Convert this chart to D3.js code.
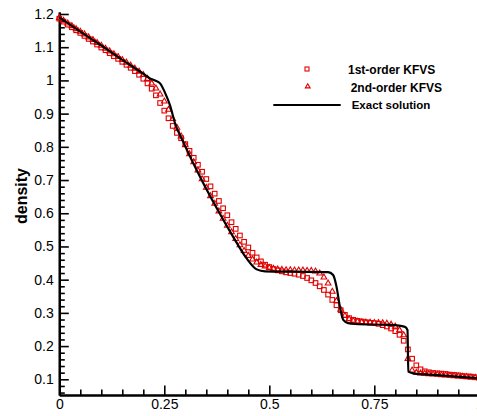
<!DOCTYPE html>
<html>
<head>
<meta charset="utf-8">
<script src="https://cdn.jsdelivr.net/npm/d3@7"></script>
<style>
  body { margin: 0; background: #fff; }
  svg { display: block; font-family: Arial, "Liberation Sans", sans-serif; }
</style>
</head>
<body>
<div id="chart"></div>
<script>
// exact solution
const exactX = [0, 0.05, 0.1, 0.15, 0.2, 0.216, 0.228, 0.24, 0.2557, 0.2636, 0.2755, 0.295, 0.335, 0.375, 0.414, 0.446, 0.47, 0.49, 0.56, 0.64, 0.652, 0.66, 0.668, 0.676, 0.688, 0.704, 0.79, 0.823, 0.829, 0.831, 0.843, 0.9, 1.0];
const exactY = [1.19, 1.147, 1.105, 1.062, 1.02, 1.006, 1.0, 0.991, 0.951, 0.925, 0.871, 0.815, 0.71, 0.615, 0.529, 0.464, 0.431, 0.425, 0.424, 0.423, 0.414, 0.379, 0.319, 0.279, 0.269, 0.2665, 0.2636, 0.258, 0.2485, 0.123, 0.118, 0.1126, 0.103];

// cell positions of the numerical results
const gridX = d3.range(101).map(i => i / 100);

// 1st-order KFVS (squares)
const firstOrder = [1.186, 1.177, 1.168, 1.160, 1.151, 1.143, 1.134, 1.125, 1.117, 1.108,
  1.099, 1.091, 1.082, 1.073, 1.065, 1.056, 1.047, 1.038, 1.028, 1.017,
  1.005, 0.991, 0.975, 0.955, 0.932, 0.909, 0.886, 0.863, 0.842, 0.826,
  0.808, 0.788, 0.767, 0.746, 0.725, 0.703, 0.681, 0.659, 0.637, 0.615,
  0.594, 0.573, 0.553, 0.533, 0.514, 0.497, 0.481, 0.467, 0.455, 0.445,
  0.438, 0.432, 0.428, 0.425, 0.422, 0.420, 0.418, 0.415, 0.411, 0.405,
  0.398, 0.390, 0.380, 0.369, 0.355, 0.339, 0.323, 0.308, 0.294, 0.284,
  0.279, 0.276, 0.274, 0.272, 0.270, 0.269, 0.267, 0.263, 0.259, 0.253,
  0.245, 0.234, 0.216, 0.190, 0.162, 0.142, 0.130, 0.124, 0.121, 0.119,
  0.118, 0.117, 0.116, 0.114, 0.113, 0.112, 0.110, 0.109, 0.108, 0.106, 0.105];

// 2nd-order KFVS (triangles)
const secondOrder = [1.188, 1.180, 1.172, 1.164, 1.155, 1.147, 1.139, 1.130, 1.122, 1.113,
  1.105, 1.096, 1.088, 1.079, 1.071, 1.062, 1.054, 1.045, 1.036, 1.027,
  1.017, 1.005, 0.991, 0.976, 0.958, 0.937, 0.912, 0.884, 0.858, 0.832,
  0.805, 0.778, 0.754, 0.729, 0.703, 0.677, 0.652, 0.629, 0.606, 0.584,
  0.563, 0.543, 0.523, 0.504, 0.487, 0.472, 0.461, 0.452, 0.445, 0.440,
  0.436, 0.433, 0.431, 0.430, 0.429, 0.429, 0.428, 0.428, 0.428, 0.427,
  0.427, 0.425, 0.419, 0.407, 0.389, 0.364, 0.336, 0.310, 0.291, 0.281,
  0.276, 0.274, 0.272, 0.271, 0.271, 0.270, 0.270, 0.269, 0.268, 0.265,
  0.259, 0.248, 0.233, 0.162, 0.127, 0.120, 0.118, 0.117, 0.116, 0.115,
  0.114, 0.113, 0.112, 0.111, 0.110, 0.109, 0.108, 0.107, 0.106, 0.105, 0.104];

const xMajor = [0, 0.25, 0.5, 0.75, 1];
const yMajor = [0.1, 0.2, 0.3, 0.4, 0.5, 0.6, 0.7, 0.8, 0.9, 1, 1.1, 1.2];
const legendNames = ["1st-order KFVS", "2nd-order KFVS", "Exact solution"];

const w = 477, h = 416;
const red = "#e00000";

const svg = d3.select("#chart").append("svg")
    .attr("width", w)
    .attr("height", h)
    .style("background", "#fff");

//scales
const x = d3.scaleLinear().domain([0, 1]).range([59.3, 479.3]);
const y = d3.scaleLinear().domain([0.0527, 1.206]).range([395, 12]);

// minor ticks
const xMinor = d3.range(21).map(i => i * 0.05).filter(v => !xMajor.some(m => Math.abs(m - v) < 1e-6));
const yMinor = d3.range(6, 121, 2).map(i => i / 100).filter(v => !yMajor.some(m => Math.abs(m - v) < 1e-6));

// x axis
const xg = svg.append("g").attr("transform", "translate(0,395)");
xg.call(d3.axisBottom(x).tickValues(xMinor).tickSizeInner(-5.5).tickSizeOuter(0).tickFormat(""));
xg.append("g").call(d3.axisBottom(x).tickValues(xMajor).tickSizeInner(-9.5).tickSizeOuter(0)
    .tickPadding(4).tickFormat(d => d === 0 ? "0" : d === 1 ? "1" : String(d)));

// y axis
const yg = svg.append("g").attr("transform", "translate(59.3,0)");
yg.call(d3.axisLeft(y).tickValues(yMinor).tickSizeInner(-5.5).tickSizeOuter(0).tickFormat(""));
yg.append("g").call(d3.axisLeft(y).tickValues(yMajor).tickSizeInner(-9.5).tickSizeOuter(0)
    .tickPadding(5.5).tickFormat(d => d === 1 ? "1" : d3.format(".1f")(d)));

svg.selectAll(".domain").attr("stroke", "#000").attr("stroke-width", 2.2);
svg.selectAll(".tick line").attr("stroke", "#000").attr("stroke-width", 1.6);
svg.selectAll(".tick text")
    .attr("font-size", "14px")
    .attr("font-family", "Arial, 'Liberation Sans', sans-serif")
    .attr("fill", "#000");

//y label
svg.append("text")
    .text("density")
    .attr("transform", "translate(26.5,196) rotate(-90)")
    .attr("text-anchor", "middle")
    .attr("font-size", "16px")
    .attr("font-weight", "bold")
    .attr("fill", "#000");

// markers
const sq = 4.6;
svg.append("g").selectAll("rect")
    .data(gridX.map((v, i) => [v, firstOrder[i]]))
    .enter().append("rect")
    .attr("x", d => x(d[0]) - sq / 2)
    .attr("y", d => y(d[1]) - sq / 2)
    .attr("width", sq)
    .attr("height", sq)
    .attr("fill", "none")
    .attr("stroke", red)
    .attr("stroke-width", 1.1);

const tri = d3.symbol().type(d3.symbolTriangle).size(14);
svg.append("g").selectAll("path")
    .data(gridX.map((v, i) => [v, secondOrder[i]]))
    .enter().append("path")
    .attr("d", tri)
    .attr("transform", d => `translate(${x(d[0])},${y(d[1])})`)
    .attr("fill", "none")
    .attr("stroke", red)
    .attr("stroke-width", 1.1);

// exact line
const line = d3.line().x(d => x(d[0])).y(d => y(d[1])).curve(d3.curveMonotoneX);
svg.append("path")
    .datum(exactX.map((v, i) => [v, exactY[i]]))
    .attr("d", line)
    .attr("fill", "none")
    .attr("stroke", "#000")
    .attr("stroke-width", 2.2);

// legend
const leg = svg.append("g");
leg.append("rect")
    .attr("x", 307 - 2).attr("y", 69 - 2).attr("width", 4).attr("height", 4)
    .attr("fill", "none").attr("stroke", red).attr("stroke-width", 1.1);
leg.append("path")
    .attr("d", d3.symbol().type(d3.symbolTriangle).size(10))
    .attr("transform", "translate(307.7,86.5)")
    .attr("fill", "none").attr("stroke", red).attr("stroke-width", 1.1);
leg.append("line")
    .attr("x1", 273.3).attr("x2", 340.7).attr("y1", 105).attr("y2", 105)
    .attr("stroke", "#000").attr("stroke-width", 2);
leg.selectAll("text")
    .data(legendNames)
    .enter().append("text")
    .text(d => d)
    .attr("x", (d, i) => [348, 350.7, 351.7][i])
    .attr("y", (d, i) => [74, 91.5, 108.5][i])
    .attr("font-size", (d, i) => i === 2 ? "11.5px" : "12px")
    .attr("font-weight", "bold")
    .attr("fill", "#000");
</script>
</body>
</html>
